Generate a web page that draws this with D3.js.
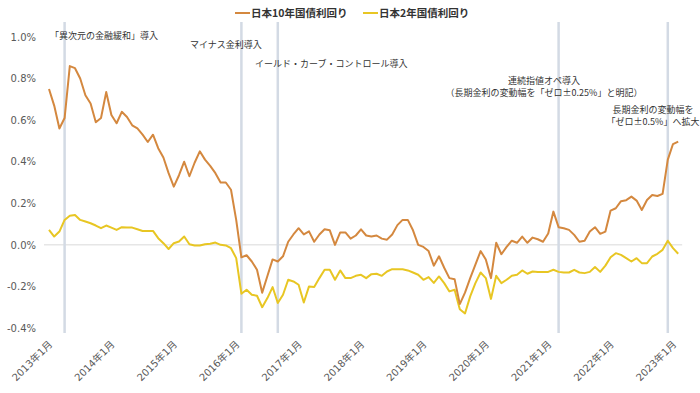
<!DOCTYPE html>
<html>
<head>
<meta charset="utf-8">
<script src="https://cdn.jsdelivr.net/npm/d3@7"></script>
<style>
  body { margin: 0; background: #fff; }
  svg { display: block; }
</style>
</head>
<body>
<svg id="drawing_region"></svg>
<script>
// months: 2013年1月 .. 2023年2月
const months = [];
for (let y = 2013; y <= 2023; y++) {
    for (let m = 1; m <= 12; m++) {
        if (y === 2023 && m > 2) break;
        months.push(`${y}年${m}月`);
    }
}

const seriesNames = ['日本10年国債利回り', '日本2年国債利回り'];

const jgb10 = [
    0.75, 0.67, 0.56, 0.61, 0.86, 0.85, 0.80, 0.72, 0.68, 0.59, 0.61, 0.735,
    0.625, 0.585, 0.64, 0.615, 0.575, 0.56, 0.53, 0.495, 0.53, 0.465, 0.42, 0.345,
    0.28, 0.335, 0.40, 0.33, 0.395, 0.45, 0.41, 0.38, 0.345, 0.30, 0.30, 0.265,
    0.12, -0.06, -0.05, -0.08, -0.12, -0.23, -0.15, -0.07, -0.08, -0.055, 0.015, 0.05,
    0.08, 0.05, 0.065, 0.015, 0.05, 0.075, 0.07, 0.0, 0.06, 0.06, 0.03, 0.045,
    0.075, 0.045, 0.04, 0.045, 0.03, 0.025, 0.05, 0.095, 0.12, 0.12, 0.07, 0.0,
    -0.01, -0.03, -0.10, -0.055, -0.11, -0.16, -0.165, -0.285, -0.23, -0.16, -0.095, -0.03,
    -0.07, -0.16, 0.01, -0.045, -0.01, 0.02, 0.01, 0.04, 0.01, 0.035, 0.027, 0.015,
    0.055, 0.16, 0.085, 0.08, 0.072, 0.048, 0.015, 0.02, 0.064, 0.085, 0.053, 0.064,
    0.165, 0.176, 0.21, 0.215, 0.232, 0.213, 0.168, 0.216, 0.24, 0.235, 0.245, 0.41,
    0.485, 0.497
];

const jgb2 = [
    0.072, 0.04, 0.064, 0.12, 0.14, 0.144, 0.12, 0.112, 0.104, 0.093, 0.08, 0.093,
    0.083, 0.072, 0.085, 0.083, 0.083, 0.075, 0.067, 0.067, 0.067, 0.032, 0.008, -0.02,
    0.008, 0.016, 0.04, 0.003, -0.003, -0.003, 0.003, 0.005, 0.011, 0.0, -0.003, -0.016,
    -0.064, -0.235, -0.216, -0.24, -0.245, -0.30, -0.256, -0.203, -0.28, -0.24, -0.168, -0.176,
    -0.192, -0.277, -0.20, -0.203, -0.16, -0.12, -0.12, -0.168, -0.123, -0.16, -0.16, -0.149,
    -0.144, -0.16, -0.141, -0.139, -0.149, -0.128, -0.117, -0.117, -0.117, -0.123, -0.133, -0.144,
    -0.168, -0.155, -0.183, -0.152, -0.184, -0.224, -0.216, -0.31, -0.33, -0.248, -0.184, -0.133,
    -0.16, -0.26, -0.149, -0.184, -0.168, -0.149, -0.144, -0.123, -0.139, -0.128, -0.13, -0.13,
    -0.13, -0.12, -0.13, -0.133, -0.133, -0.12, -0.133, -0.136, -0.13, -0.107, -0.13, -0.10,
    -0.06, -0.04, -0.048, -0.064, -0.08, -0.064, -0.088, -0.088, -0.056, -0.043, -0.024, 0.02,
    -0.016, -0.043
];

const yTicks = [-0.4, -0.2, 0.0, 0.2, 0.4, 0.6, 0.8, 1.0];
const xTickLabels = ['2013年1月', '2014年1月', '2015年1月', '2016年1月', '2017年1月', '2018年1月',
    '2019年1月', '2020年1月', '2021年1月', '2022年1月', '2023年1月'];

// policy events (month of vertical line)
const eventMonths = ['2013年4月', '2016年2月', '2016年9月', '2021年3月', '2022年12月'];
const eventTexts = [
    ['「異次元の金融緩和」導入'],
    ['マイナス金利導入'],
    ['イールド・カーブ・コントロール導入'],
    ['連続指値オペ導入', '（長期金利の変動幅を「ゼロ±0.25%」と明記）'],
    ['長期金利の変動幅を', '「ゼロ±0.5%」へ拡大']
];

class LineChart {
    constructor(config) {
        this.config = config;
        this.init();
    }

    init() {
        let self = this;
        const c = self.config;
        self.svg = d3.select(c.parent)
            .attr('width', c.width)
            .attr('height', c.height);

        self.xscale = d3.scalePoint()
            .domain(months)
            .range([c.left, c.right]);

        self.yscale = d3.scaleLinear()
            .domain([-0.4, 1.0])
            .range([c.bottom, c.top]);

        self.line = d3.line()
            .x((d, i) => self.xscale(months[i]))
            .y(d => self.yscale(d));
    }

    render() {
        let self = this;
        const c = self.config;
        const font = '"DejaVu Sans", "Noto Sans CJK JP", sans-serif';
        const jpfont = '"Noto Sans CJK JP", sans-serif';

        // zero line
        self.svg.append('line')
            .attr('x1', c.left - 5).attr('x2', c.right + 4)
            .attr('y1', self.yscale(0)).attr('y2', self.yscale(0))
            .attr('stroke', '#d9d9d9').attr('stroke-width', 1);

        // event lines
        self.svg.selectAll('.event')
            .data(eventMonths)
            .enter()
            .append('line')
            .attr('x1', d => self.xscale(d)).attr('x2', d => self.xscale(d))
            .attr('y1', 22).attr('y2', 333)
            .attr('stroke', '#d3dae4').attr('stroke-width', 2.5);

        // y axis
        const yaxis = self.svg.append('g')
            .attr('transform', `translate(40,0)`)
            .call(d3.axisLeft(self.yscale)
                .tickValues(yTicks)
                .tickSize(0)
                .tickPadding(4)
                .tickFormat(d => d.toFixed(1) + '%'));
        yaxis.select('.domain').remove();
        yaxis.selectAll('text')
            .attr('font-family', font)
            .attr('font-size', 10)
            .attr('fill', '#595959');

        // x axis labels
        self.svg.selectAll('.xlabel')
            .data(xTickLabels)
            .enter()
            .append('text')
            .attr('transform', d => `translate(${self.xscale(d) + 4},345) rotate(-45)`)
            .attr('text-anchor', 'end')
            .attr('font-family', font)
            .attr('font-size', 10)
            .attr('fill', '#595959')
            .text(d => d);

        // lines
        const series = [jgb2, jgb10];
        const colors = ['#e8c623', '#d4883f'];
        self.svg.selectAll('.series')
            .data(series)
            .enter()
            .append('path')
            .attr('d', self.line)
            .attr('fill', 'none')
            .attr('stroke', (d, i) => colors[i])
            .attr('stroke-width', 2)
            .attr('stroke-linejoin', 'round');

        // legend
        const legend = [
            {name: seriesNames[0], color: '#d4883f', x: 235},
            {name: seriesNames[1], color: '#e8c623', x: 363}
        ];
        const lg = self.svg.selectAll('.legend')
            .data(legend)
            .enter()
            .append('g')
            .attr('transform', d => `translate(${d.x},13)`);
        lg.append('line')
            .attr('x1', 0).attr('x2', 15)
            .attr('stroke', d => d.color).attr('stroke-width', 2);
        lg.append('text')
            .attr('x', 16).attr('dy', '0.35em')
            .attr('font-family', jpfont)
            .attr('font-size', 10.5)
            .attr('font-weight', 'bold')
            .attr('fill', '#333')
            .text(d => d.name);

        // annotations
        const ann = [
            {x: 50, y: 36, anchor: 'start'},
            {x: 190, y: 45, anchor: 'start'},
            {x: 255, y: 64, anchor: 'start'},
            {x: 544, y: 81, anchor: 'middle'},
            {x: 653, y: 110, anchor: 'middle'}
        ];
        eventTexts.forEach((lines, k) => {
            const t = self.svg.append('text')
                .attr('font-family', jpfont)
                .attr('font-size', 9)
                .attr('fill', '#333')
                .attr('text-anchor', ann[k].anchor);
            lines.forEach((s, j) => {
                t.append('tspan')
                    .attr('x', ann[k].x)
                    .attr('y', ann[k].y + j * 11.5)
                    .attr('dy', '0.35em')
                    .text(s);
            });
        });
    }
}

const chart = new LineChart({
    parent: '#drawing_region',
    width: 700, height: 393,
    left: 49, right: 678.2,
    top: 37, bottom: 328
});
chart.render();
</script>
</body>
</html>
